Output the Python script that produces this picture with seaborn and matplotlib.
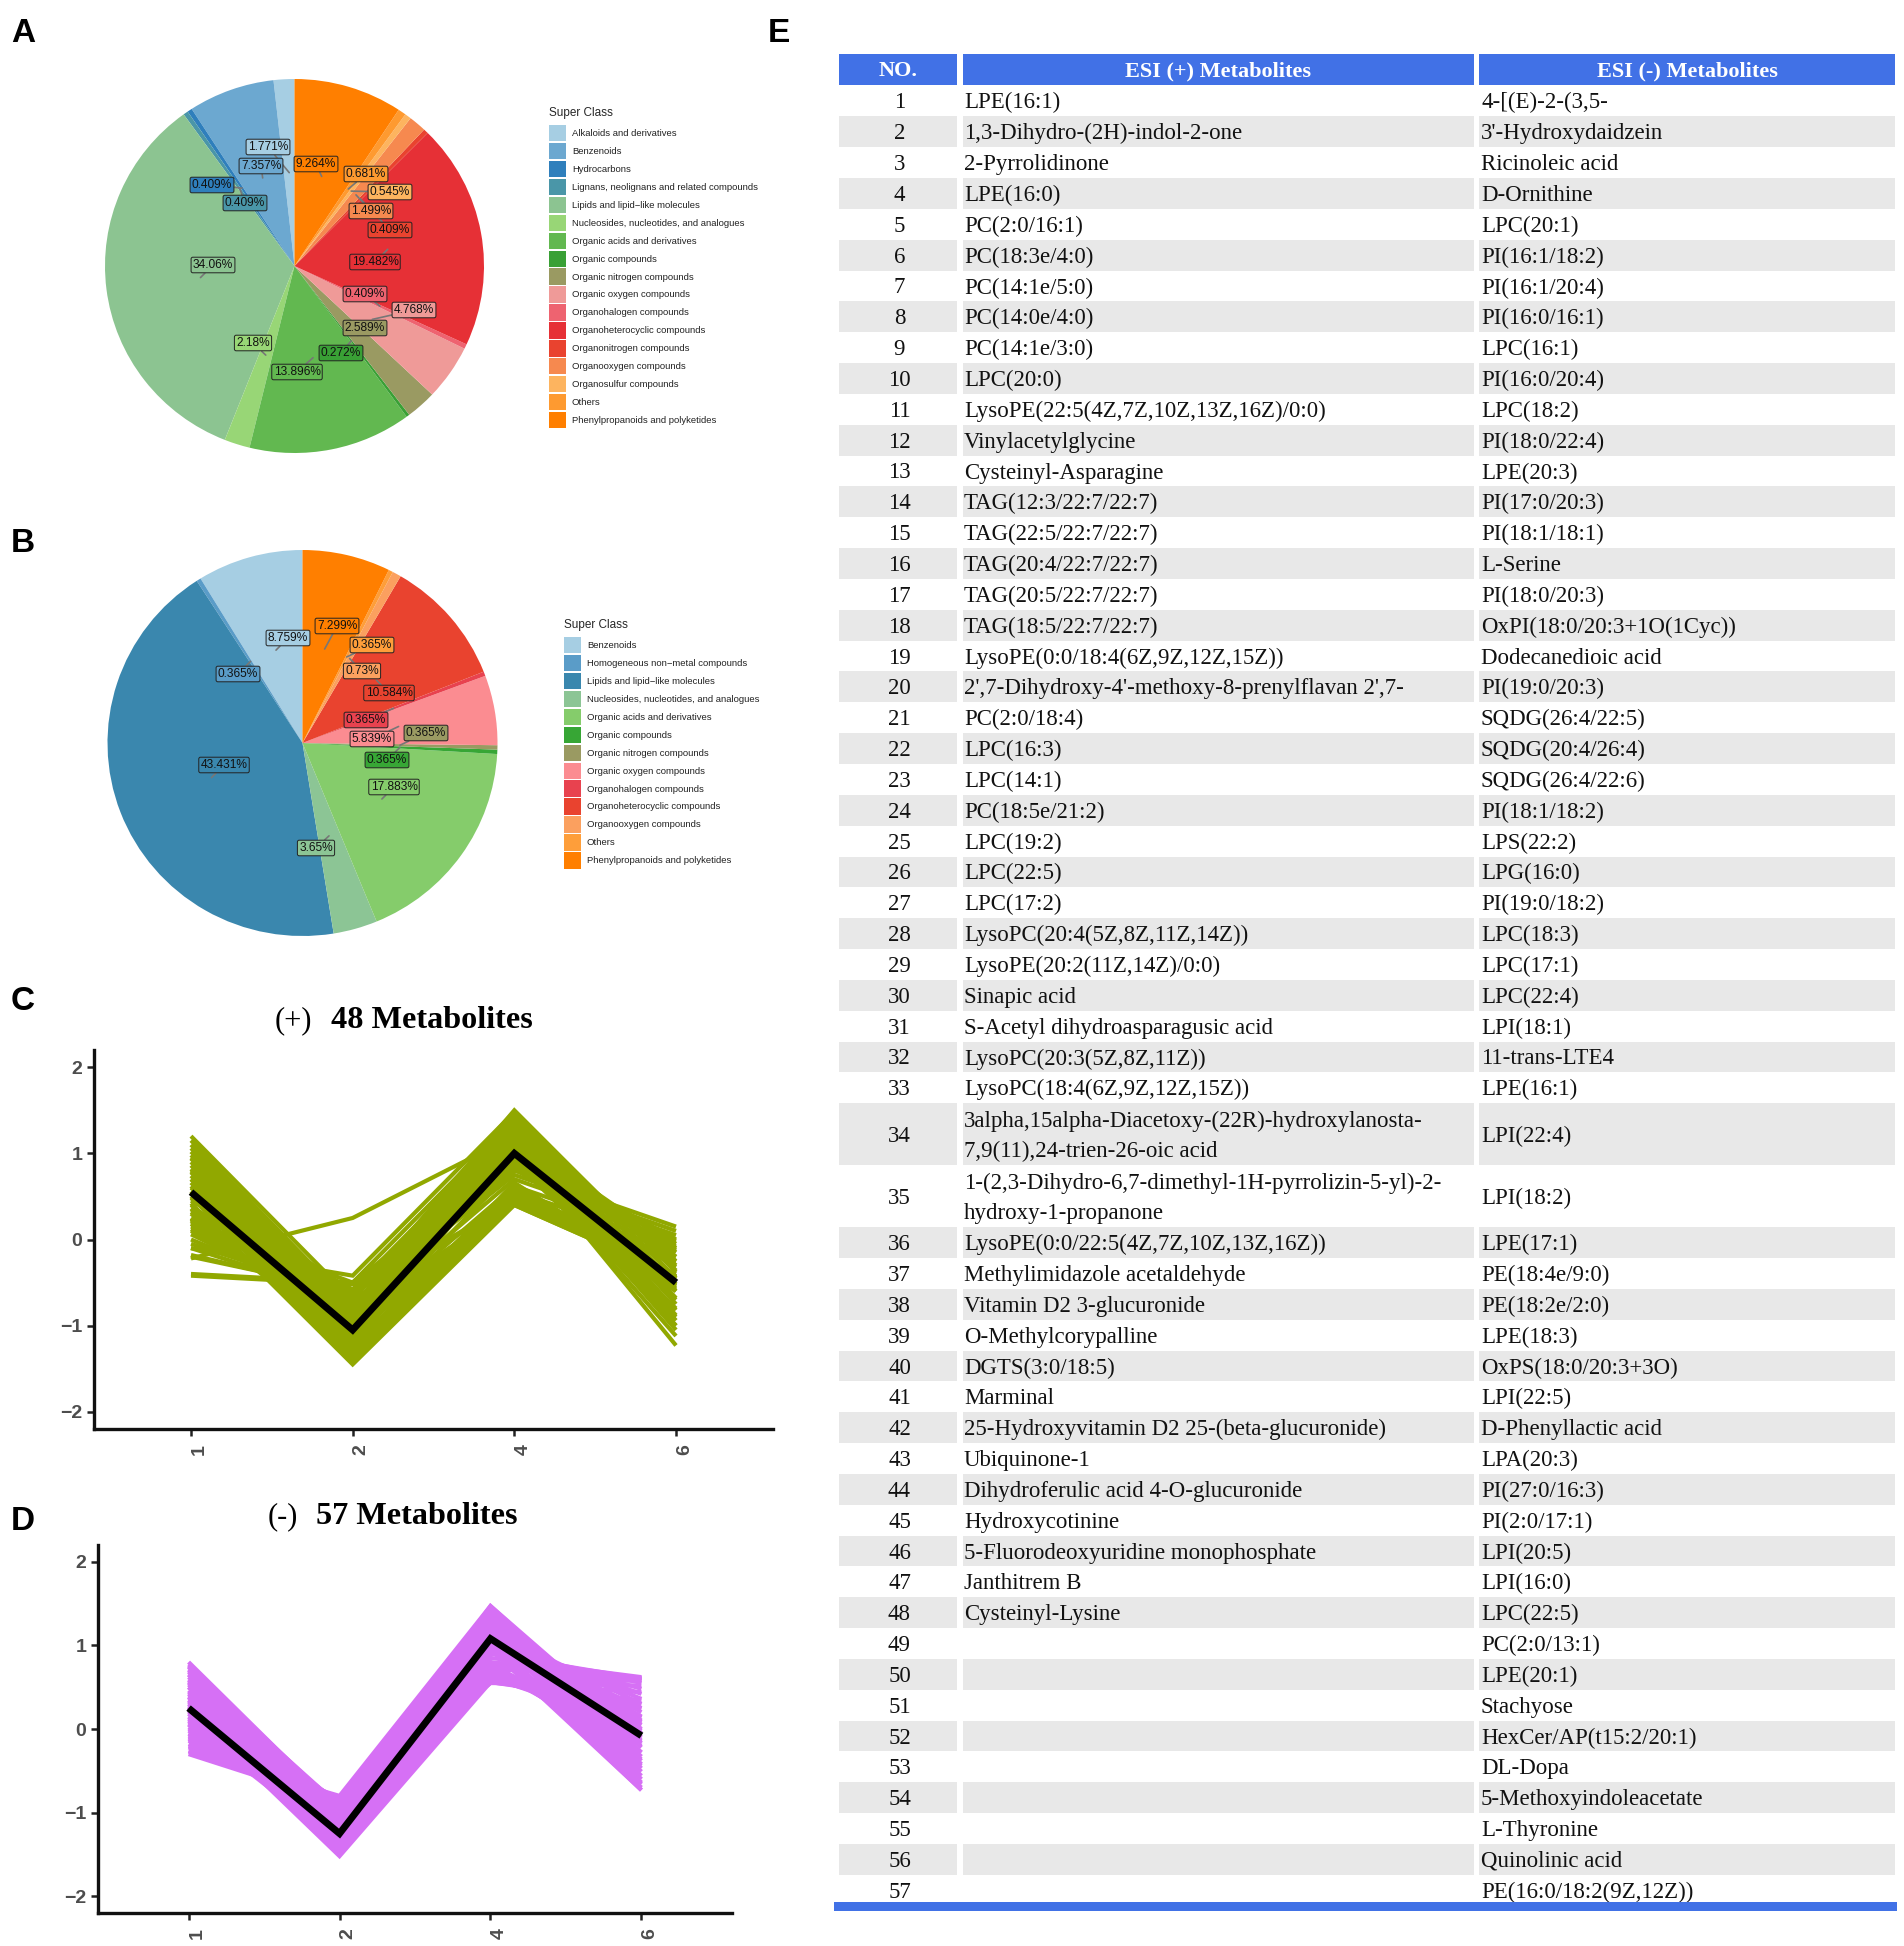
import numpy as np
import pandas as pd
import matplotlib
matplotlib.use('Agg')
import matplotlib.pyplot as plt
import seaborn as sns

W, H = 1904, 1946

# ----- Pie A -----
a_classes = ['Alkaloids and derivatives', 'Benzenoids', 'Hydrocarbons', 'Lignans, neolignans and related compounds',
             'Lipids and lipid\u2212like molecules', 'Nucleosides, nucleotides, and analogues', 'Organic acids and derivatives',
             'Organic compounds', 'Organic nitrogen compounds', 'Organic oxygen compounds', 'Organohalogen compounds',
             'Organoheterocyclic compounds', 'Organonitrogen compounds', 'Organooxygen compounds', 'Organosulfur compounds',
             'Others', 'Phenylpropanoids and polyketides']
a_values = [1.771, 7.357, 0.409, 0.409, 34.06, 2.18, 13.896, 0.272, 2.589, 4.768, 0.409, 19.482, 0.409, 1.499, 0.545, 0.681, 9.264]
a_colors = ['#A6CEE3', '#6CA8D0', '#2F7FBC', '#4A96A8', '#8CC491', '#98D676', '#62B850', '#39A035', '#9A9A62',
            '#EF9A98', '#EE6370', '#E63036', '#E9432F', '#F6894F', '#FDB45F', '#FE9A30', '#FF7F00']
a_label_px = [(268, 147), (261, 166), (212, 185), (245, 203), (213, 265), (253, 343), (297, 372), (341, 353), (365, 328),
              (414, 310), (365, 294), (375, 262), (390, 230), (371, 211), (390, 192), (366, 174), (316, 164)]

# ----- Pie B -----
b_classes = ['Benzenoids', 'Homogeneous non\u2212metal compounds', 'Lipids and lipid\u2212like molecules',
             'Nucleosides, nucleotides, and analogues', 'Organic acids and derivatives', 'Organic compounds',
             'Organic nitrogen compounds', 'Organic oxygen compounds', 'Organohalogen compounds',
             'Organoheterocyclic compounds', 'Organooxygen compounds', 'Others', 'Phenylpropanoids and polyketides']
b_values = [8.759, 0.365, 43.431, 3.65, 17.883, 0.365, 0.365, 5.839, 0.365, 10.584, 0.73, 0.365, 7.299]
b_colors = ['#A6CEE3', '#5A9CC8', '#3A87AE', '#8CC595', '#85CC6B', '#37A635', '#9A9A62', '#FB8C91', '#E8424F',
            '#E9432F', '#FBA05F', '#FE9E3A', '#FF7F00']
b_label_px = [(288, 638), (238, 674), (224, 765), (316, 848), (394, 787), (387, 760), (426, 733), (372, 739), (366, 720),
              (389, 693), (362, 671), (372, 645), (337, 626)]

# ----- Line panels, values -----
time_points = ['1', '2', '4', '6']
pos_mean = [0.55, -1.05, 1.0, -0.5]
neg_mean = [0.25, -1.25, 1.08, -0.08]
pos_traces = [
    [1.20, -0.70, 1.50, -0.38], [1.15, -0.78, 1.46, -0.45], [1.10, -0.82, 1.42, -0.52], [1.06, -0.88, 1.38, -0.60],
    [1.02, -0.92, 1.35, -0.68], [0.98, -0.98, 1.30, -0.75], [0.94, -1.02, 1.26, -0.82], [0.90, -1.06, 1.22, -0.88],
    [0.86, -1.10, 1.18, -0.94], [0.82, -1.14, 1.14, -1.00], [0.78, -1.18, 1.10, -1.05], [0.74, -1.22, 1.06, -1.23],
    [0.70, -1.26, 0.65, -0.60], [0.66, -1.30, 0.60, -0.58], [0.62, -1.34, 0.56, -0.56], [0.56, -1.38, 0.52, -0.52],
    [0.50, -1.42, 0.46, -0.48], [0.42, -1.45, 0.40, -0.43], [0.36, -1.34, 0.66, -0.54], [0.30, -1.24, 0.60, -0.48],
    [0.24, -1.14, 0.54, -0.43], [0.18, -1.04, 0.48, -0.43], [0.12, -0.94, 0.44, -0.40], [0.06, -0.84, 0.40, -0.43],
    [0.00, -0.76, 1.02, -1.12], [-0.05, -0.66, 0.98, -1.00], [-0.10, -0.42, 1.48, -0.36], [0.20, -0.50, 1.40, -0.30],
    [0.45, -0.58, 1.32, -0.25], [0.70, -0.62, 1.25, -0.20], [0.95, -0.72, 0.80, 0.15], [0.80, -0.74, 0.75, 0.10],
    [0.60, -0.90, 0.70, 0.05], [0.40, -1.00, 0.62, -0.02], [0.25, -1.10, 0.56, -0.08], [0.22, -1.20, 0.50, -0.14],
    [-0.10, -0.70, 0.46, -0.20], [-0.18, -0.62, 0.44, -0.26], [-0.22, 0.25, 1.20, -0.10], [-0.42, -0.52, 0.90, -0.90],
    [-0.40, -0.50, 0.95, -0.80], [-0.20, -0.60, 0.98, -0.70], [0.15, -0.66, 1.15, -0.15], [0.35, -0.78, 1.10, -0.05],
    [0.55, -0.84, 1.02, 0.00], [0.32, -0.96, 0.92, -0.12], [0.10, -0.88, 0.86, -0.45], [0.48, -1.08, 0.82, -0.32],
]
neg_traces = [
    [0.80, -0.98, 1.47, -0.17], [0.77, -1.00, 1.44, -0.22], [0.74, -1.03, 1.41, -0.28], [0.71, -1.06, 1.38, -0.33],
    [0.68, -1.09, 1.35, -0.38], [0.65, -1.12, 1.32, -0.42], [0.62, -1.15, 1.29, -0.47], [0.59, -1.18, 1.26, -0.51],
    [0.56, -1.21, 1.23, -0.56], [0.53, -1.24, 1.20, -0.60], [0.50, -1.27, 1.16, -0.64], [0.46, -1.30, 0.78, -0.20],
    [0.42, -1.34, 0.74, -0.15], [0.38, -1.38, 0.70, -0.13], [0.34, -1.42, 0.66, -0.05], [0.30, -1.46, 0.62, 0.00],
    [0.26, -1.50, 0.60, 0.10], [0.22, -1.52, 0.56, 0.30], [0.18, -1.44, 0.80, -0.44], [0.14, -1.38, 0.76, -0.36],
    [0.10, -1.32, 0.72, -0.28], [0.06, -1.26, 0.70, -0.13], [0.02, -1.20, 0.66, -0.05], [-0.02, -1.14, 0.62, 0.05],
    [-0.06, -1.08, 0.60, 0.14], [-0.10, -1.02, 0.58, 0.24], [-0.14, -0.98, 0.56, 0.34], [-0.18, -0.94, 0.56, 0.44],
    [-0.22, -0.90, 0.55, 0.52], [-0.26, -0.88, 0.55, 0.58], [-0.30, -0.88, 0.58, 0.61], [-0.27, -0.80, 1.47, -0.10],
    [-0.20, -0.82, 1.42, -0.05], [-0.05, -0.84, 1.36, 0.00], [0.10, -0.84, 1.30, 0.05], [0.25, -0.86, 1.26, 0.10],
    [0.40, -0.88, 1.24, 0.14], [0.55, -0.90, 1.20, 0.20], [0.70, -0.92, 1.18, 0.30], [0.75, -0.95, 1.10, 0.36],
    [0.65, -1.00, 1.05, 0.42], [0.58, -1.04, 1.00, 0.48], [0.50, -1.08, 0.95, 0.55], [0.44, -1.12, 0.90, 0.60],
    [0.38, -1.16, 0.85, 0.62], [0.32, -1.20, 0.80, 0.60], [0.26, -1.24, 0.76, 0.58], [0.20, -1.28, 0.72, 0.61],
    [0.15, -1.12, 1.10, 0.25], [0.08, -1.06, 1.15, 0.15], [0.00, -0.96, 1.22, 0.08], [-0.08, -0.92, 1.28, -0.02],
    [0.12, -1.30, 0.95, -0.73], [0.05, -1.36, 1.00, -0.73], [-0.12, -1.00, 0.74, -0.15], [0.35, -1.10, 1.04, -0.70],
    [0.28, -1.16, 1.08, -0.66],
]

# ----- Table E -----
esi_pos = ['LPE(16:1)', '1,3-Dihydro-(2H)-indol-2-one', '2-Pyrrolidinone', 'LPE(16:0)', 'PC(2:0/16:1)', 'PC(18:3e/4:0)',
           'PC(14:1e/5:0)', 'PC(14:0e/4:0)', 'PC(14:1e/3:0)', 'LPC(20:0)', 'LysoPE(22:5(4Z,7Z,10Z,13Z,16Z)/0:0)',
           'Vinylacetylglycine', 'Cysteinyl-Asparagine', 'TAG(12:3/22:7/22:7)', 'TAG(22:5/22:7/22:7)', 'TAG(20:4/22:7/22:7)',
           'TAG(20:5/22:7/22:7)', 'TAG(18:5/22:7/22:7)', 'LysoPE(0:0/18:4(6Z,9Z,12Z,15Z))',
           "2',7-Dihydroxy-4'-methoxy-8-prenylflavan 2',7-", 'PC(2:0/18:4)', 'LPC(16:3)', 'LPC(14:1)', 'PC(18:5e/21:2)',
           'LPC(19:2)', 'LPC(22:5)', 'LPC(17:2)', 'LysoPC(20:4(5Z,8Z,11Z,14Z))', 'LysoPE(20:2(11Z,14Z)/0:0)', 'Sinapic acid',
           'S-Acetyl dihydroasparagusic acid', 'LysoPC(20:3(5Z,8Z,11Z))', 'LysoPC(18:4(6Z,9Z,12Z,15Z))',
           '3alpha,15alpha-Diacetoxy-(22R)-hydroxylanosta-\n7,9(11),24-trien-26-oic acid',
           '1-(2,3-Dihydro-6,7-dimethyl-1H-pyrrolizin-5-yl)-2-\nhydroxy-1-propanone', 'LysoPE(0:0/22:5(4Z,7Z,10Z,13Z,16Z))',
           'Methylimidazole acetaldehyde', 'Vitamin D2 3-glucuronide', 'O-Methylcorypalline', 'DGTS(3:0/18:5)', 'Marminal',
           '25-Hydroxyvitamin D2 25-(beta-glucuronide)', 'Ubiquinone-1', 'Dihydroferulic acid 4-O-glucuronide', 'Hydroxycotinine',
           '5-Fluorodeoxyuridine monophosphate', 'Janthitrem B', 'Cysteinyl-Lysine']
esi_neg = ['4-[(E)-2-(3,5-', "3'-Hydroxydaidzein", 'Ricinoleic acid', 'D-Ornithine', 'LPC(20:1)', 'PI(16:1/18:2)', 'PI(16:1/20:4)',
           'PI(16:0/16:1)', 'LPC(16:1)', 'PI(16:0/20:4)', 'LPC(18:2)', 'PI(18:0/22:4)', 'LPE(20:3)', 'PI(17:0/20:3)', 'PI(18:1/18:1)',
           'L-Serine', 'PI(18:0/20:3)', 'OxPI(18:0/20:3+1O(1Cyc))', 'Dodecanedioic acid', 'PI(19:0/20:3)', 'SQDG(26:4/22:5)',
           'SQDG(20:4/26:4)', 'SQDG(26:4/22:6)', 'PI(18:1/18:2)', 'LPS(22:2)', 'LPG(16:0)', 'PI(19:0/18:2)', 'LPC(18:3)', 'LPC(17:1)',
           'LPC(22:4)', 'LPI(18:1)', '11-trans-LTE4', 'LPE(16:1)', 'LPI(22:4)', 'LPI(18:2)', 'LPE(17:1)', 'PE(18:4e/9:0)',
           'PE(18:2e/2:0)', 'LPE(18:3)', 'OxPS(18:0/20:3+3O)', 'LPI(22:5)', 'D-Phenyllactic acid', 'LPA(20:3)', 'PI(27:0/16:3)',
           'PI(2:0/17:1)', 'LPI(20:5)', 'LPI(16:0)', 'LPC(22:5)', 'PC(2:0/13:1)', 'LPE(20:1)', 'Stachyose', 'HexCer/AP(t15:2/20:1)',
           'DL-Dopa', '5-Methoxyindoleacetate', 'L-Thyronine', 'Quinolinic acid', 'PE(16:0/18:2(9Z,12Z))']
table_head = ['NO.', 'ESI (+) Metabolites', 'ESI (-) Metabolites']

sns.set_theme(style='white')
plt.rcParams['font.family'] = ['Liberation Sans', 'DejaVu Sans']
fig = plt.figure(figsize=(W / 100, H / 100), dpi=100, facecolor='white')
SERIF = 'Liberation Serif'


def px_axes(x0, y0, x1, y1):
    # axes box given in picture pixels, y going down
    return fig.add_axes([x0 / W, 1 - y1 / H, (x1 - x0) / W, (y1 - y0) / H])


# ----- Canvas for the table and panel letters -----
bg = px_axes(0, 0, W, H)
bg.set_xlim(0, W)
bg.set_ylim(H, 0)
bg.axis('off')

for letter, lx, ly in [('A', 23, 34), ('B', 23, 544), ('C', 23, 1001), ('D', 23, 1521), ('E', 779, 34)]:
    bg.text(lx, ly, letter, fontsize=24, fontweight='bold', ha='center', va='center', color='black')


def draw_pie(box, values, colors, classes, label_px, legend_xy):
    ax = px_axes(*box)
    wedges, _ = ax.pie(values, colors=sns.color_palette(colors), startangle=90, counterclock=True, radius=1,
                       wedgeprops=dict(linewidth=0))
    ax.set_aspect('auto')
    ax.set_xlim(-1, 1)
    ax.set_ylim(-1, 1)
    for w, v, c, (tx, ty) in zip(wedges, values, colors, label_px):
        mid = np.deg2rad((w.theta1 + w.theta2) / 2)
        ax.annotate(f'{v:g}%', xy=(0.5 * np.cos(mid), 0.5 * np.sin(mid)), xytext=(tx, H - ty), textcoords='figure pixels',
                    ha='center', va='center', fontsize=8.6, color='#111111',
                    bbox=dict(boxstyle='round,pad=0.15', fc=c, ec='#222222', lw=0.7),
                    arrowprops=dict(arrowstyle='-', color='#777777', lw=1.2, shrinkA=0, shrinkB=0))
    leg = fig.legend(wedges, classes, title='Super Class', loc='upper left', frameon=False,
                     bbox_to_anchor=(legend_xy[0] / W, 1 - legend_xy[1] / H), bbox_transform=fig.transFigure,
                     fontsize=6.8, title_fontsize=8.5, alignment='left', borderpad=0, borderaxespad=0,
                     handlelength=1.8, handleheight=2.27, handletextpad=0.62, labelspacing=0.18, labelcolor='#222222')
    leg._legend_box.sep += 3  # a little more air under the title


draw_pie((105, 79, 484, 453), a_values, a_colors, a_classes, a_label_px, (549, 107))
draw_pie((107.5, 550, 497.5, 936), b_values, b_colors, b_classes, b_label_px, (564, 619))


def draw_lines(box, traces, mean, color):
    df = pd.DataFrame(traces, columns=time_points)
    df['id'] = range(len(df))
    long_df = df.melt(id_vars='id', var_name='time', value_name='value')
    ax = px_axes(*box)
    sns.lineplot(data=long_df, x='time', y='value', units='id', estimator=None, color=color, lw=3, ax=ax,
                 solid_joinstyle='miter', solid_capstyle='butt', legend=False, sort=False)
    sns.lineplot(x=time_points, y=mean, color='black', lw=5, ax=ax, estimator=None,
                 solid_joinstyle='miter', solid_capstyle='butt', legend=False)
    ax.set_xlim(-0.6, 3.6)
    ax.set_ylim(-2.2, 2.2)
    ax.set_yticks([-2, -1, 0, 1, 2])
    ax.set_xticks(range(4), time_points, rotation=90, ha='left')
    ax.set_xlabel('')
    ax.set_ylabel('')
    sns.despine(ax=ax)
    for s in ['left', 'bottom']:
        ax.spines[s].set_linewidth(2.4)
        ax.spines[s].set_color('#111111')
    ax.tick_params(axis='both', left=True, bottom=True, length=5, width=1.8, color='#222222',
                   labelcolor='#4D4D4D', labelsize=14)
    ax.tick_params(axis='x', pad=6)
    plt.setp(ax.get_xticklabels() + ax.get_yticklabels(), fontweight='bold')
    ax.patch.set_alpha(0)


draw_lines((94, 1050, 773, 1429), pos_traces, pos_mean, '#91A800')
draw_lines((98, 1545, 732, 1913), neg_traces, neg_mean, '#D670F5')

bg.text(275, 1021, '(+)', family=SERIF, fontsize=22, ha='left', va='center', color='black')
bg.text(331, 1021, '48 Metabolites', family=SERIF, fontsize=23.2, fontweight='bold', ha='left', va='center', color='black')
bg.text(268, 1517, '(-)', family=SERIF, fontsize=22, ha='left', va='center', color='black')
bg.text(316, 1517, '57 Metabolites', family=SERIF, fontsize=23.2, fontweight='bold', ha='left', va='center', color='black')

# ----- Table -----
col_edges = [(839, 957), (963, 1473.5), (1479, 1895)]
head_top, head_bot = 54, 85
for (c0, c1), name in zip(col_edges, table_head):
    bg.barh((head_top + head_bot) / 2, c1 - c0, height=head_bot - head_top, left=c0, color='#4171E6', lw=0)
    bg.text((c0 + c1) / 2, (head_top + head_bot) / 2 + 1.5, name, family=SERIF, fontsize=16, fontweight='bold',
            color='white', ha='center', va='center')

y = 85.5
for i in range(57):
    no = i + 1
    h = 62 if no in (34, 35) else 30.84
    cy = y + h / 2
    if no % 2 == 0:
        for c0, c1 in col_edges:
            bg.barh(cy, c1 - c0, height=h, left=c0, color='#E8E8E8', lw=0)
    bg.text(899.5, cy + 2, str(no), family=SERIF, fontsize=16.5, color='#111111', ha='center', va='center')
    if i < len(esi_pos):
        bg.text(964, cy + 2, esi_pos[i], family=SERIF, fontsize=16.5, color='#111111', ha='left', va='center', linespacing=1.55)
    bg.text(1481, cy + 2, esi_neg[i], family=SERIF, fontsize=16.5, color='#111111', ha='left', va='center')
    y += h

bg.barh(1906.5, 1897 - 834, height=9, left=834, color='#4171E6', lw=0, zorder=5)
bg.set_xlim(0, W)
bg.set_ylim(H, 0)

fig.savefig('out.png', dpi=100, facecolor='white')
